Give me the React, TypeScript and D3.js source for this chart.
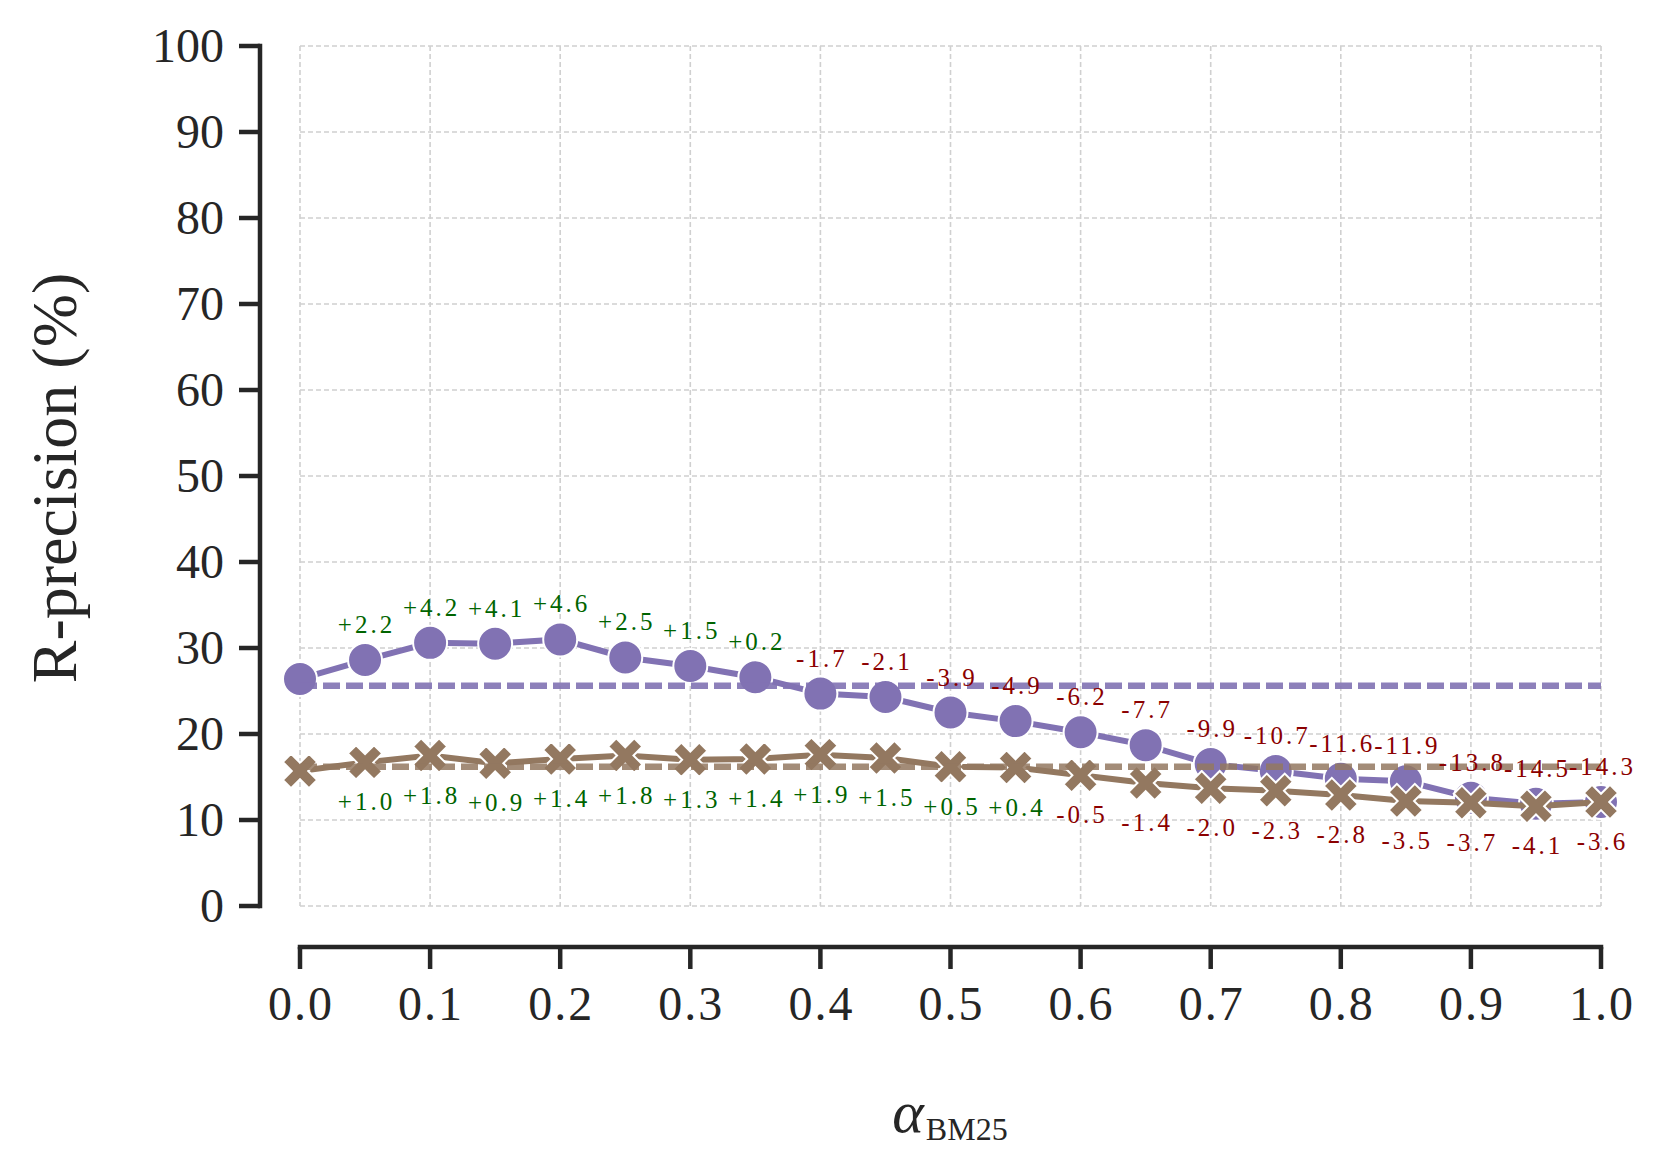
import React from 'react';
import * as d3 from 'd3';

// alpha_BM25 sweep
const alphas = [0, 0.05, 0.1, 0.15, 0.2, 0.25, 0.3, 0.35, 0.4, 0.45, 0.5, 0.55, 0.6, 0.65, 0.7, 0.75, 0.8, 0.85, 0.9, 0.95, 1.0];

const purpleValues = [26.4, 28.6, 30.6, 30.5, 31.0, 28.9, 27.9, 26.6, 24.7, 24.3, 22.5, 21.5, 20.2, 18.7, 16.5, 15.7, 14.8, 14.5, 12.6, 11.9, 12.1];
const purpleDeltas = [null, 2.2, 4.2, 4.1, 4.6, 2.5, 1.5, 0.2, -1.7, -2.1, -3.9, -4.9, -6.2, -7.7, -9.9, -10.7, -11.6, -11.9, -13.8, -14.5, -14.3];
const purpleBaseline = 25.6;

const brownValues = [15.7, 16.7, 17.5, 16.6, 17.1, 17.5, 17.0, 17.1, 17.6, 17.2, 16.2, 16.1, 15.2, 14.3, 13.7, 13.4, 12.9, 12.2, 12.0, 11.6, 12.1];
const brownDeltas = [null, 1.0, 1.8, 0.9, 1.4, 1.8, 1.3, 1.4, 1.9, 1.5, 0.5, 0.4, -0.5, -1.4, -2.0, -2.3, -2.8, -3.5, -3.7, -4.1, -3.6];
const brownBaseline = 16.2;

const xTicks = [0, 0.1, 0.2, 0.3, 0.4, 0.5, 0.6, 0.7, 0.8, 0.9, 1.0];
const yTicks = [0, 10, 20, 30, 40, 50, 60, 70, 80, 90, 100];

const PURPLE = '#8172b3';
const BROWN = '#937860';
const GREEN = '#006400';
const RED = '#8b0000';
const INK = '#262626';
const FONT = '"Liberation Serif", "DejaVu Serif", serif';

const W = 1661;
const H = 1171;

const fmtDelta = (d: number) => (d >= 0 ? '+' : '-') + Math.abs(d).toFixed(1);

// filled "X" marker, like matplotlib's 'X'
const xMarker = (L: number, w: number) => {
  const pts: Array<[number, number]> = [
    [w, w], [w, L], [-w, L], [-w, w], [-L, w], [-L, -w], [-w, -w], [-w, -L], [w, -L], [w, -w], [L, -w], [L, w],
  ];
  const c = Math.SQRT1_2;
  return 'M' + pts.map(([px, py]) => `${(px - py) * c},${(px + py) * c}`).join('L') + 'Z';
};

export default function App() {
  const x = d3.scaleLinear().domain([0, 1]).range([300, 1601]);
  const y = d3.scaleLinear().domain([0, 100]).range([906, 46]);

  const yAxisX = 260;
  const xAxisY = 947;

  const line = d3
    .line<number>()
    .x((_, i) => x(alphas[i]))
    .y((d) => y(d));

  const xPath = xMarker(18.5, 5.8);

  return (
    <svg
      width={W}
      height={H}
      style={{ position: 'absolute', left: 0, top: 0, background: '#fff' }}
      fontFamily={FONT}
    >
      {/* grid */}
      <g stroke="#d0d0d0" strokeWidth={1.6} strokeDasharray="5,3" fill="none">
        {xTicks.map((t) => (
          <line key={'gx' + t} x1={x(t)} x2={x(t)} y1={y(100)} y2={y(0)} />
        ))}
        {yTicks.map((t) => (
          <line key={'gy' + t} x1={x(0)} x2={x(1)} y1={y(t)} y2={y(t)} />
        ))}
      </g>

      {/* purple series */}
      <path d={line(purpleValues) || ''} fill="none" stroke={PURPLE} strokeWidth={6} />
      {purpleValues.map((v, i) => (
        <circle key={'pc' + i} cx={x(alphas[i])} cy={y(v)} r={17} fill={PURPLE} stroke="#fff" strokeWidth={2} />
      ))}

      {/* brown series */}
      <path d={line(brownValues) || ''} fill="none" stroke={BROWN} strokeWidth={6} />
      {brownValues.map((v, i) => (
        <path
          key={'bx' + i}
          d={xPath}
          transform={`translate(${x(alphas[i])},${y(v)})`}
          fill={BROWN}
          stroke="#fff"
          strokeWidth={2}
        />
      ))}

      {/* baselines */}
      <line
        x1={x(0)}
        x2={x(1)}
        y1={y(purpleBaseline)}
        y2={y(purpleBaseline)}
        stroke={PURPLE}
        strokeOpacity={0.9}
        strokeWidth={6.5}
        strokeDasharray="17,6"
      />
      <line
        x1={x(0)}
        x2={x(1)}
        y1={y(brownBaseline)}
        y2={y(brownBaseline)}
        stroke={BROWN}
        strokeOpacity={0.85}
        strokeWidth={6.5}
        strokeDasharray="17,6"
      />

      {/* annotations */}
      <g fontSize={25} textAnchor="middle" letterSpacing={3}>
        {purpleDeltas.map((d, i) =>
          d === null ? null : (
            <text key={'pl' + i} x={x(alphas[i]) + 1.5} y={y(purpleValues[i]) - 27} fill={d >= 0 ? GREEN : RED}>
              {fmtDelta(d)}
            </text>
          ),
        )}
        {brownDeltas.map((d, i) =>
          d === null ? null : (
            <text key={'bl' + i} x={x(alphas[i]) + 1.5} y={y(brownValues[i]) + 48} fill={d >= 0 ? GREEN : RED}>
              {fmtDelta(d)}
            </text>
          ),
        )}
      </g>

      {/* y axis */}
      <g stroke={INK} strokeWidth={4.5} strokeLinecap="square">
        <line x1={yAxisX} x2={yAxisX} y1={y(100)} y2={y(0)} />
        {yTicks.map((t) => (
          <line key={'yt' + t} x1={yAxisX - 21} x2={yAxisX} y1={y(t)} y2={y(t)} strokeLinecap="butt" />
        ))}
      </g>
      <g fontSize={48} fill={INK} textAnchor="end">
        {yTicks.map((t) => (
          <text key={'yl' + t} x={224} y={y(t)} dy="0.34em">
            {t}
          </text>
        ))}
      </g>

      {/* x axis */}
      <g stroke={INK} strokeWidth={4.5} strokeLinecap="square">
        <line x1={x(0)} x2={x(1)} y1={xAxisY} y2={xAxisY} />
        {xTicks.map((t) => (
          <line key={'xt' + t} x1={x(t)} x2={x(t)} y1={xAxisY} y2={xAxisY + 22} strokeLinecap="butt" />
        ))}
      </g>
      <g fontSize={48} fill={INK} textAnchor="middle" letterSpacing={2}>
        {xTicks.map((t) => (
          <text key={'xl' + t} x={x(t) + 1} y={1020}>
            {t.toFixed(1)}
          </text>
        ))}
      </g>

      {/* axis labels */}
      <text x={950} y={1132} textAnchor="middle" fill={INK}>
        <tspan fontSize={60} fontStyle="italic">α</tspan>
        <tspan fontSize={32} dy={8} dx={2}>BM25</tspan>
      </text>
      <text
        transform="translate(76,478) rotate(-90)"
        textAnchor="middle"
        fontSize={64}
        fill={INK}
      >
        R-precision (%)
      </text>
    </svg>
  );
}
